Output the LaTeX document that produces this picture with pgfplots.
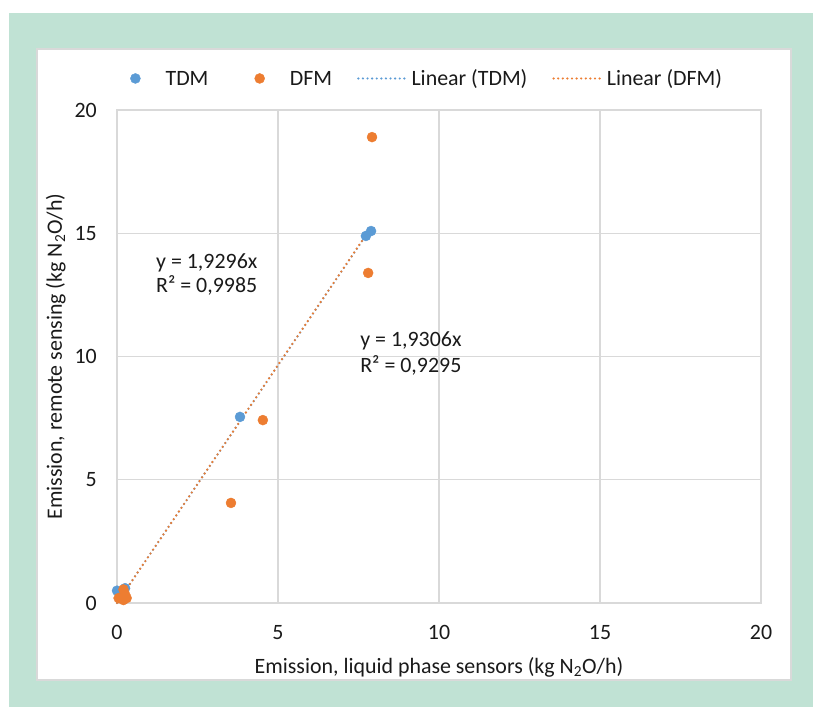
\documentclass[border=0pt]{standalone}
\usepackage{pgfplots}
\pgfplotsset{compat=1.18}
\usepackage{fontspec}
\setmainfont{Carlito}
\definecolor{tdm}{HTML}{5B9BD5}
\definecolor{dfm}{HTML}{ED7D31}
\definecolor{framegreen}{HTML}{C0E2D4}
\definecolor{gridc}{HTML}{D9D9D9}
\definecolor{txt}{HTML}{1A1A1A}
\pgfplotsset{
  markleg/.style={legend image code/.code={\path (0pt,0pt) (56pt,0pt); \draw[##1] plot coordinates {(26pt,6.8pt)};}},
  lineleg/.style={legend image code/.code={\path (0pt,0pt) (52pt,0pt); \draw[##1] (0pt,6.8pt) -- (47pt,6.8pt);}},
}
\begin{document}
\begin{tikzpicture}[x=1pt,y=1pt]
\fill[white] (0,0) rectangle (813,707);
\fill[framegreen] (9,0) rectangle (813,694);
\fill[white] (37,27) rectangle (791,658);
\draw[gridc, line width=1.5pt] (37,27) rectangle (791,658);
\begin{axis}[
  at={(117pt,104pt)}, anchor=south west,
  scale only axis, width=644pt, height=493pt,
  xmin=0, xmax=20, ymin=0, ymax=20,
  xtick={0,5,10,15,20}, ytick={0,5,10,15,20},
  grid=major, grid style={gridc, line width=1.3pt},
  axis line style={gridc, line width=1.3pt},
  major tick length=0pt, tick style={draw=none},
  font=\fontsize{21.9}{26}\selectfont,
  every axis label/.append style={text=txt},
  ticklabel style={text=txt},
  /pgf/number format/assume math mode=true,
  xticklabel style={anchor=base, inner sep=0pt, yshift=-36pt},
  yticklabel style={anchor=east, inner sep=0pt, xshift=-20pt},
  xlabel={Emission, liquid phase sensors (kg N\textsubscript{2}O/h)},
  ylabel={Emission, remote sensing (kg N\textsubscript{2}O/h)},
  xlabel style={at={([yshift=-70pt]axis description cs:0.5,0)}, anchor=base, inner sep=0pt},
  ylabel style={at={([xshift=-55pt]axis description cs:0,0.5)}, anchor=base, inner sep=0pt},
  clip=false,
  legend columns=4,
  legend style={at={(axis description cs:-0.0124,1.0649)}, anchor=west, draw=none, fill=none,
    inner sep=0pt, font=\fontsize{21.9}{26}\selectfont, text=txt,
    cells={anchor=base}, nodes={inner sep=0pt},
    /tikz/every odd column/.append style={column sep=0pt},
    /tikz/every even column/.append style={column sep=25pt}},
]
\addplot[only marks, mark=*, mark size=5pt, color=tdm, mark options={draw=tdm, fill=tdm}, markleg]
  coordinates {(0.0,0.5) (0.25,0.6) (0.15,0.3) (3.82,7.55) (7.73,14.89) (7.89,15.09)};
\addlegendentry{TDM}
\addplot[only marks, mark=*, mark size=5pt, color=dfm, mark options={draw=dfm, fill=dfm}, markleg]
  coordinates {(0.2,0.55) (0.05,0.2) (0.2,0.12) (0.3,0.2) (0.25,0.35) (3.54,4.06) (4.53,7.42) (7.8,13.39) (7.92,18.9)};
\addlegendentry{DFM}
\addplot[tdm, no marks, line width=2.4pt, dash pattern=on 0pt off 4.6pt, line cap=round, lineleg]
  coordinates {(0,0) (7.89,15.22)};
\addlegendentry{Linear (TDM)}
\addplot[dfm, no marks, line width=2.4pt, dash pattern=on 0pt off 4.6pt, line cap=round, lineleg]
  coordinates {(0,0) (7.92,15.29)};
\addlegendentry{Linear (DFM)}
\node[anchor=base west, inner sep=0pt, text=txt] at (axis cs:1.21,13.55) {y = 1,9296x};
\node[anchor=base west, inner sep=0pt, text=txt] at (axis cs:1.21,12.58) {R² = 0,9985};
\node[anchor=base west, inner sep=0pt, text=txt] at (axis cs:7.55,10.39) {y = 1,9306x};
\node[anchor=base west, inner sep=0pt, text=txt] at (axis cs:7.55,9.37) {R² = 0,9295};
\end{axis}
\end{tikzpicture}
\end{document}
